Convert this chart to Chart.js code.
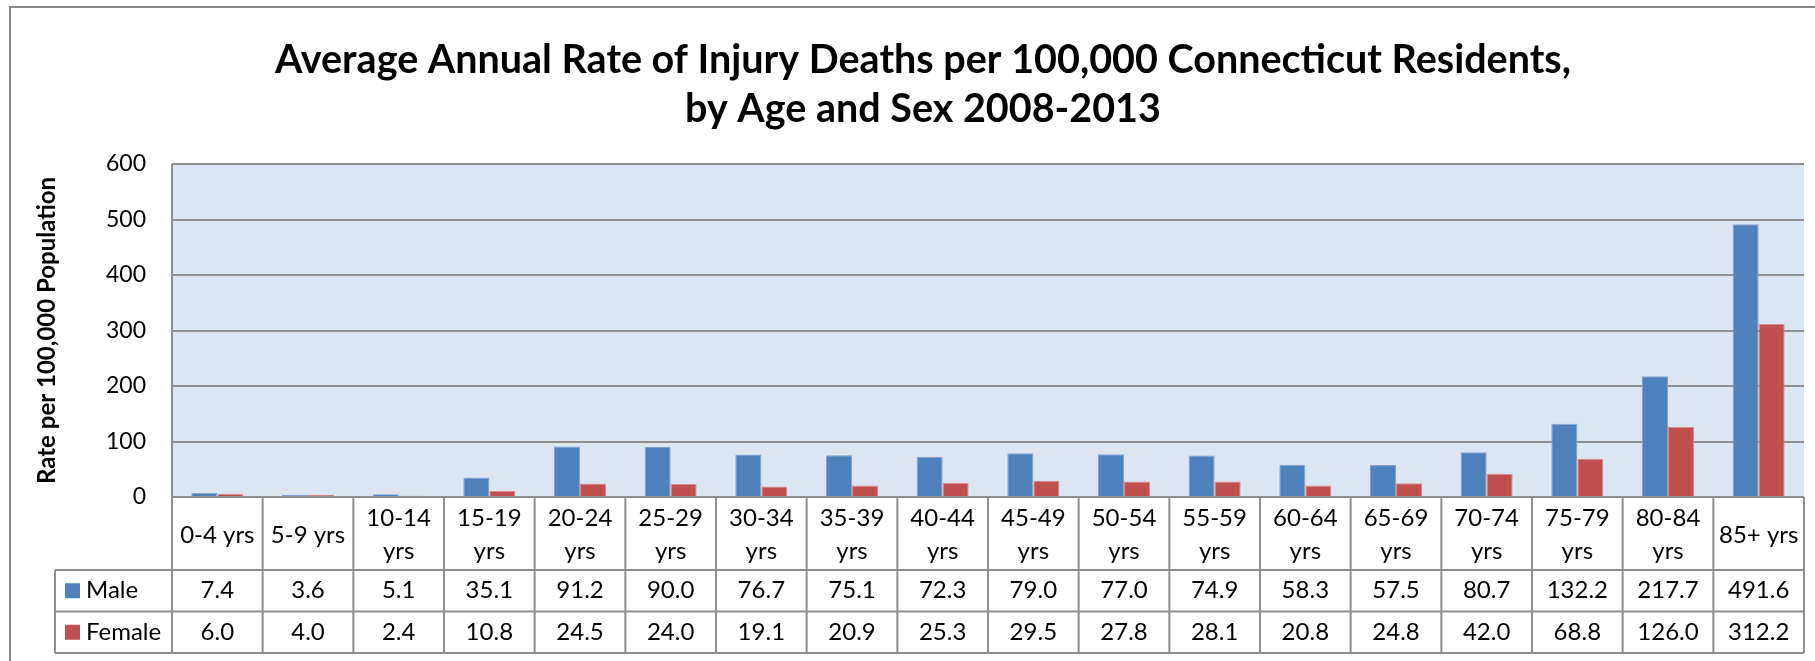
<!DOCTYPE html>
<html><head><meta charset="utf-8">
<script src="https://cdn.jsdelivr.net/npm/chart.js@4"></script>
<style>html,body{margin:0;padding:0;background:#fff;overflow:hidden}</style>
</head><body>
<canvas id="c" width="1815" height="661"></canvas>
<script>
const categories = [["0-4 yrs"],["5-9 yrs"],["10-14","yrs"],["15-19","yrs"],["20-24","yrs"],["25-29","yrs"],["30-34","yrs"],["35-39","yrs"],["40-44","yrs"],["45-49","yrs"],["50-54","yrs"],["55-59","yrs"],["60-64","yrs"],["65-69","yrs"],["70-74","yrs"],["75-79","yrs"],["80-84","yrs"],["85+ yrs"]];
const maleValues = [7.4,3.6,5.1,35.1,91.2,90.0,76.7,75.1,72.3,79.0,77.0,74.9,58.3,57.5,80.7,132.2,217.7,491.6];
const femaleValues = [6.0,4.0,2.4,10.8,24.5,24.0,19.1,20.9,25.3,29.5,27.8,28.1,20.8,24.8,42.0,68.8,126.0,312.2];
const seriesNames = ["Male","Female"];
const yTickValues = [0,100,200,300,400,500,600];
const titleLines = ["Average Annual Rate of Injury Deaths per 100,000 Connecticut Residents,","by Age and Sex 2008-2013"];
const yAxisTitle = "Rate per 100,000 Population";

const FONT = "Lato, 'Open Sans', sans-serif";
const maleColor = "#4F81BD", femaleColor = "#C0504D";
const lineColor = "#8e8e8e";

const tablePlugin = {
  id: 'tablePlugin',
  beforeDraw(chart) {
    const ctx = chart.ctx, a = chart.chartArea;
    ctx.save();
    ctx.fillStyle = '#fff';
    ctx.fillRect(0, 0, chart.width, chart.height);
    ctx.strokeStyle = '#8a8a8a';
    ctx.lineWidth = 2;
    ctx.strokeRect(10, 7, chart.width + 20, chart.height + 20);
    ctx.fillStyle = '#DCE6F2';
    ctx.fillRect(a.left, a.top, a.right - a.left, a.bottom - a.top);
    ctx.restore();
  },
  afterDraw(chart) {
    const ctx = chart.ctx, a = chart.chartArea, xs = chart.scales.x;
    const n = categories.length;
    const w = (xs.right - xs.left) / n;
    const headerBottom = xs.bottom;
    const rowH = 41.5;
    const r1 = headerBottom + rowH, r2 = headerBottom + 2 * rowH;
    const legendLeft = 55;
    ctx.save();
    // title
    ctx.fillStyle = '#000';
    ctx.font = "bold 39.5px " + FONT;
    ctx.textAlign = 'center';
    ctx.textBaseline = 'middle';
    ctx.fillText(titleLines[0], 923, 60);
    ctx.fillText(titleLines[1], 923, 109);
    // table lines
    ctx.strokeStyle = lineColor;
    ctx.lineWidth = 2;
    ctx.beginPath();
    ctx.moveTo(a.left, a.bottom); ctx.lineTo(xs.right, a.bottom);
    ctx.moveTo(legendLeft, headerBottom); ctx.lineTo(xs.right, headerBottom);
    ctx.moveTo(legendLeft, r1); ctx.lineTo(xs.right, r1);
    ctx.moveTo(legendLeft, r2); ctx.lineTo(xs.right, r2);
    ctx.moveTo(legendLeft, headerBottom); ctx.lineTo(legendLeft, r2);
    ctx.moveTo(a.left, a.top); ctx.lineTo(a.left, r2);
    for (let i = 1; i <= n; i++) {
      const bx = xs.left + i * w;
      ctx.moveTo(bx, a.bottom); ctx.lineTo(bx, r2);
    }
    ctx.stroke();
    // legend and values
    ctx.font = "24px " + FONT;
    ctx.textBaseline = 'middle';
    const rows = [[maleValues, maleColor, seriesNames[0], (headerBottom + r1) / 2], [femaleValues, femaleColor, seriesNames[1], (r1 + r2) / 2]];
    rows.forEach(([vals, col, name, cy]) => {
      ctx.fillStyle = col;
      ctx.fillRect(65, cy - 7.5, 15, 15);
      ctx.fillStyle = '#000';
      ctx.textAlign = 'left';
      ctx.fillText(name, 86, cy);
      ctx.textAlign = 'center';
      vals.forEach((v, i) => ctx.fillText(v.toFixed(1), xs.getPixelForValue(i), cy));
    });
    ctx.restore();
  }
};

new Chart(document.getElementById('c'), {
  type: 'bar',
  data: {
    labels: categories,
    datasets: [
      { label: seriesNames[0], data: maleValues, backgroundColor: maleColor, borderColor: '#7fa3d1', borderWidth: 1 },
      { label: seriesNames[1], data: femaleValues, backgroundColor: femaleColor, borderColor: '#d98c8a', borderWidth: 1 }
    ]
  },
  options: {
    responsive: false,
    animation: false,
    devicePixelRatio: 1,
    datasets: { bar: { categoryPercentage: 0.5735, barPercentage: 1 } },
    layout: { padding: { left: 30, top: 164, right: 11, bottom: 91 } },
    plugins: { legend: { display: false }, title: { display: false }, tooltip: { enabled: false } },
    scales: {
      x: {
        grid: { display: false },
        border: { display: false },
        ticks: { color: '#000', font: { family: FONT, size: 24, lineHeight: 1.4 }, maxRotation: 0, autoSkip: false, crossAlign: 'center', padding: 13 },
        afterFit(s) { s.height = 73; }
      },
      y: {
        min: 0, max: 600,
        afterBuildTicks(s) { s.ticks = yTickValues.map(v => ({ value: v })); },
        grid: { color: '#8f8f8f', lineWidth: 2, drawTicks: false },
        border: { display: false },
        ticks: { color: '#000', font: { family: FONT, size: 23 }, padding: 26 },
        title: { display: true, text: yAxisTitle, color: '#000', font: { family: FONT, size: 24, weight: 'bold' }, padding: { top: 3, bottom: 0 } },
        afterFit(s) { s.width = 142; }
      }
    }
  },
  plugins: [tablePlugin]
});
</script>
</body></html>
